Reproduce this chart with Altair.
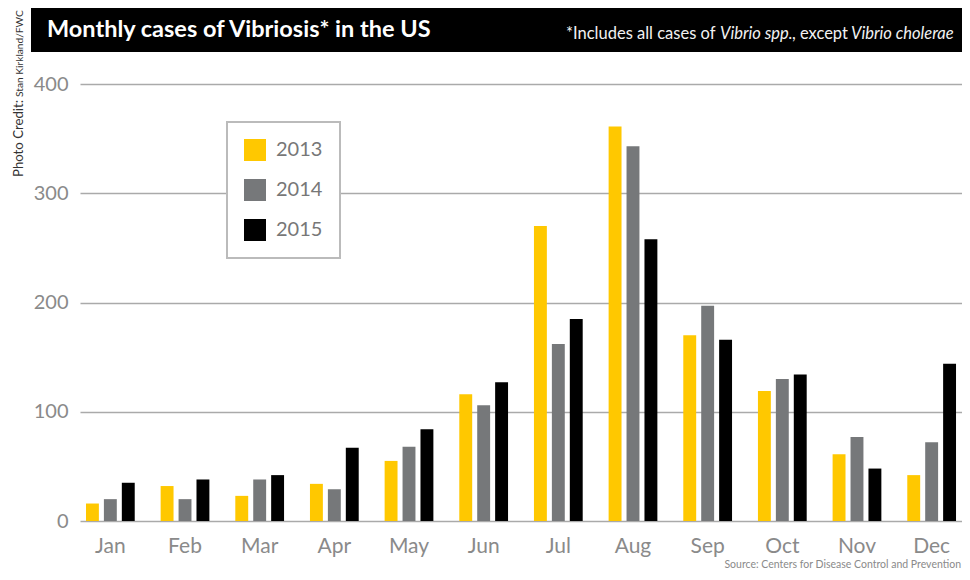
import altair as alt
import pandas as pd

months = ["Jan", "Feb", "Mar", "Apr", "May", "Jun", "Jul", "Aug", "Sep", "Oct", "Nov", "Dec"]
years = ["2013", "2014", "2015"]
cases_2013 = [16, 32, 23, 34, 55, 116, 270, 361, 170, 119, 61, 42]
cases_2014 = [20, 20, 38, 29, 68, 106, 162, 343, 197, 130, 77, 72]
cases_2015 = [35, 38, 42, 67, 84, 127, 185, 258, 166, 134, 48, 144]
year_colors = ["#FFC800", "#76787A", "#000000"]
y_ticks = [0, 100, 200, 300, 400]

title_text = "Monthly cases of Vibriosis* in the US"
note_parts = ["*Includes all cases of", "Vibrio spp.", ", except", "Vibrio cholerae"]
note_styles = ["normal", "italic", "normal", "italic"]
credit_label = "Photo Credit:"
credit_name = "Stan Kirkland/FWC"
source_text = "Source: Centers for Disease Control and Prevention"

rows = []
for i, m in enumerate(months):
    for yr, vals in zip(years, [cases_2013, cases_2014, cases_2015]):
        rows.append({"month": m, "year": yr, "cases": vals[i]})
df = pd.DataFrame(rows)

FONT = "Lato"
one = alt.Data(values=[{}])
W = 882

bg = alt.Chart(one).mark_rect(color="black").encode(
    x=alt.value(-49), x2=alt.value(W), y=alt.value(-76), y2=alt.value(-32)
)

bars = alt.Chart(df).mark_bar().encode(
    x=alt.X("month:N", sort=months,
            scale=alt.Scale(paddingInner=0.347, paddingOuter=0.08),
            axis=alt.Axis(title=None, labelAngle=0, domain=False, ticks=False, tickSize=0,
                          labelFontSize=21, labelColor="#8a8a8a", labelFont=FONT,
                          labelPadding=14, grid=False)),
    xOffset=alt.XOffset("year:N", sort=years, scale=alt.Scale(paddingInner=0.28, paddingOuter=0)),
    y=alt.Y("cases:Q", scale=alt.Scale(domain=[0, 400], nice=False),
            axis=alt.Axis(values=y_ticks, title=None, domain=False, ticks=False, tickSize=0,
                          labelPadding=12, labelFontSize=20, labelColor="#8a8a8a",
                          labelFont=FONT, gridColor="#aaaaaa", gridWidth=1.5)),
    color=alt.Color("year:N", scale=alt.Scale(domain=years, range=year_colors),
                    legend=alt.Legend(title=None, orient="none", legendX=147, legendY=38,
                                      symbolType="square", symbolSize=484, symbolStrokeWidth=0,
                                      labelFontSize=20, labelColor="#777777", labelFont=FONT,
                                      labelOffset=10, rowPadding=18, padding=17,
                                      strokeColor="#bbbbbb", fillColor="white")),
)


def txt(text, x, y, **kw):
    return alt.Chart(one).mark_text(text=text, font=FONT, **kw).encode(
        x=alt.value(x), y=alt.value(y))


title = txt(title_text, -33, -47, fontSize=23.5, fontWeight="bold", color="white",
            align="left", baseline="alphabetic")

note_x = [486, 640, 712, 771]
notes = [txt(t, x, -45, fontSize=16.5, fontStyle=s, color="#f2f2f2", align="left",
             baseline="alphabetic") for t, s, x in zip(note_parts, note_styles, note_x)]

credit1 = txt(credit_label, -57, 93, fontSize=13.2, angle=270, color="#333333",
              align="left", baseline="alphabetic")
credit2 = txt(credit_name, -57, 13, fontSize=10.2, angle=270, color="#333333",
              align="left", baseline="alphabetic")

source = txt(source_text, W - 1, 484, fontSize=10.5, color="#8a8a8a",
             align="right", baseline="alphabetic")

chart = alt.layer(bg, bars, title, *notes, credit1, credit2, source).properties(
    width=W, height=437,
    autosize=alt.AutoSizeParams(type="none"),
    padding={"left": 72, "top": 76, "right": 0, "bottom": 50},
).configure_view(stroke=None).configure_legend(strokeWidth=2)

chart.save("out.html", embed_options={"renderer": "svg", "actions": False})
